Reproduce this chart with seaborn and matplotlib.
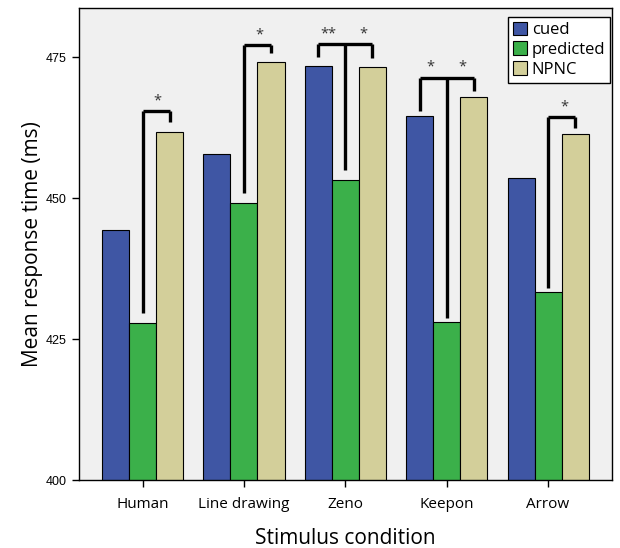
import matplotlib.pyplot as plt
import pandas as pd
import seaborn as sns

# data
conditions = ["Human", "Line drawing", "Zeno", "Keepon", "Arrow"]
cue_types = ["cued", "predicted", "NPNC"]
cued = [444.3, 457.8, 473.4, 464.5, 453.5]
predicted = [427.8, 449.1, 453.2, 428.0, 433.3]
npnc = [461.7, 474.1, 473.2, 467.9, 461.3]

palette = ["#3F56A4", "#3BB04A", "#D3CF9A"]

# significance brackets: (condition, [(series, leg bottom)], top, stars as (series offset, label))
brackets = [
    ("Human", [(1, 429.7), (2, 463.5)], 465.4, [(0.145, "*")]),
    ("Line drawing", [(1, 450.9), (2, 475.7)], 477.1, [(0.15, "*")]),
    ("Zeno", [(0, 475.0), (1, 455.0), (2, 474.8)], 477.3, [(-0.165, "**"), (0.18, "*")]),
    ("Keepon", [(0, 465.5), (1, 428.8), (2, 469.0)], 471.4, [(-0.16, "*"), (0.15, "*")]),
    ("Arrow", [(1, 434.0), (2, 462.4)], 464.4, [(0.16, "*")]),
]

df = pd.DataFrame(
    {
        "condition": conditions * 3,
        "cue": ["cued"] * 5 + ["predicted"] * 5 + ["NPNC"] * 5,
        "rt": cued + predicted + npnc,
    }
)

sns.set_style("ticks")
plt.rcParams["font.family"] = ["Open Sans", "DejaVu Sans"]
plt.rcParams["text.color"] = "black"
plt.rcParams["axes.labelcolor"] = "black"
plt.rcParams["xtick.color"] = "black"
plt.rcParams["ytick.color"] = "black"

fig = plt.figure(figsize=(6.2, 5.48), dpi=100)
ax = fig.add_axes([0.127, 0.124, 0.86, 0.861])
ax.set_facecolor("#F0F0F0")

sns.barplot(
    data=df,
    x="condition",
    y="rt",
    hue="cue",
    order=conditions,
    hue_order=cue_types,
    palette=palette,
    width=0.8,
    edgecolor="black",
    linewidth=0.8,
    saturation=1,
    ax=ax,
)

bar_w = 0.8 / 3
for cond, legs, top, stars in brackets:
    gx = conditions.index(cond)
    xs = [gx + (s - 1) * bar_w for s, _ in legs]
    ax.plot([xs[0], xs[-1]], [top, top], color="black", lw=2.4, solid_capstyle="butt")
    for (s, bottom), x in zip(legs, xs):
        ax.plot([x, x], [bottom, top], color="black", lw=2.4, solid_capstyle="butt")
    for off, label in stars:
        ax.text(gx + off, top + 0.5, label, ha="center", va="bottom",
                fontsize=10.5, color="#333333")

ax.set_ylim(400, 483.7)
ax.set_xlim(-0.63, 4.63)
ax.set_yticks([400, 425, 450, 475])
ax.tick_params(axis="y", labelsize=9, length=5, width=1)
ax.tick_params(axis="x", labelsize=11, length=5, width=1, pad=7)
for lbl in ax.get_yticklabels():
    lbl.set_family(["Liberation Sans", "DejaVu Sans"])
for sp in ax.spines.values():
    sp.set_visible(True)
    sp.set_color("black")
    sp.set_linewidth(1)

ax.set_xlabel("Stimulus condition", fontsize=15, labelpad=12)
ax.set_ylabel("Mean response time (ms)", fontsize=15, labelpad=2)

leg = ax.legend(
    loc="upper right",
    bbox_to_anchor=(0.997, 0.982),
    fontsize=12,
    frameon=True,
    fancybox=False,
    edgecolor="black",
    framealpha=1,
    handlelength=0.85,
    handleheight=0.85,
    handletextpad=0.3,
    borderpad=0.3,
    labelspacing=0.2,
    borderaxespad=0,
)
leg.get_frame().set_linewidth(1)

plt.savefig("out.png", dpi=100)
